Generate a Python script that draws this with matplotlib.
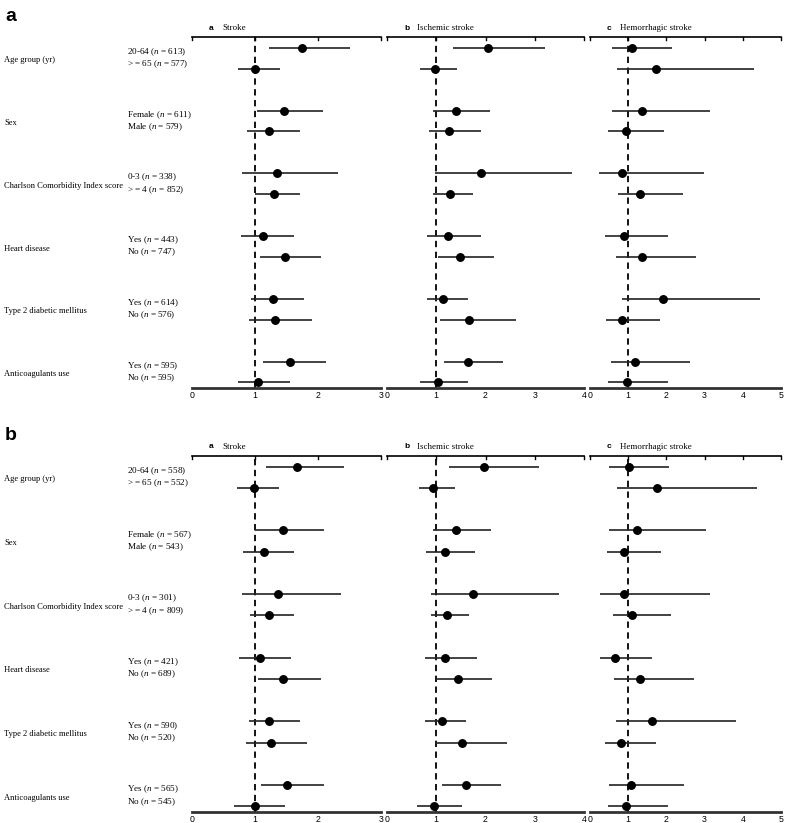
"""Forest plots: subgroup hazard ratios for stroke, ischemic and hemorrhagic stroke (two cohorts)."""
import numpy as np
import matplotlib.pyplot as plt

plt.rcParams["font.family"] = ["Liberation Serif", "DejaVu Serif"]
plt.rcParams["mathtext.fontset"] = "custom"
plt.rcParams["mathtext.rm"] = "Liberation Serif"
plt.rcParams["mathtext.it"] = "Liberation Serif:italic"

groups = ["Age group (yr)", "Sex", "Charlson Comorbidity Index score",
          "Heart disease", "Type 2 diabetic mellitus", "Anticoagulants use"]
sub_names = [("20-64", "> = 65"), ("Female", "Male"), ("0-3", "> = 4"),
             ("Yes", "No"), ("Yes", "No"), ("Yes", "No")]
n_top = [(613, 577), (611, 579), (338, 852), (443, 747), (614, 576), (595, 595)]
n_bot = [(558, 552), (567, 543), (301, 809), (421, 689), (590, 520), (565, 545)]

outcomes = ["Stroke", "Ischemic stroke", "Hemorrhagic stroke"]
letters = ["a", "b", "c"]
xmax = [3, 4, 5]

# hazard ratio, lower CI, upper CI -- 12 rows per outcome (cohort a)
top_hr = [
    [1.75, 1.00, 1.46, 1.22, 1.35, 1.30, 1.13, 1.47, 1.28, 1.31, 1.55, 1.05],
    [2.06, 0.98, 1.40, 1.26, 1.90, 1.28, 1.24, 1.49, 1.14, 1.66, 1.65, 1.04],
    [1.10, 1.73, 1.35, 0.95, 0.84, 1.30, 0.88, 1.35, 1.92, 0.84, 1.19, 0.97],
]
top_lo = [
    [1.23, 0.73, 1.03, 0.87, 0.79, 1.00, 0.78, 1.08, 0.93, 0.91, 1.12, 0.73],
    [1.35, 0.68, 0.94, 0.85, 0.97, 0.94, 0.82, 1.03, 0.82, 1.07, 1.15, 0.68],
    [0.57, 0.70, 0.58, 0.46, 0.24, 0.72, 0.39, 0.68, 0.84, 0.41, 0.56, 0.48],
]
top_hi = [
    [2.50, 1.40, 2.08, 1.71, 2.32, 1.71, 1.62, 2.05, 1.77, 1.90, 2.13, 1.55],
    [3.21, 1.43, 2.09, 1.91, 3.75, 1.75, 1.91, 2.18, 1.65, 2.62, 2.36, 1.65],
    [2.15, 4.29, 3.15, 1.95, 2.99, 2.44, 2.04, 2.77, 4.46, 1.82, 2.61, 2.05],
]
# cohort b
bot_hr = [
    [1.67, 0.98, 1.45, 1.14, 1.36, 1.22, 1.08, 1.45, 1.23, 1.25, 1.51, 1.00],
    [1.96, 0.94, 1.40, 1.18, 1.75, 1.21, 1.18, 1.44, 1.11, 1.53, 1.60, 0.95],
    [1.02, 1.76, 1.23, 0.90, 0.89, 1.11, 0.66, 1.31, 1.62, 0.81, 1.07, 0.95],
]
bot_lo = [
    [1.17, 0.71, 1.00, 0.81, 0.80, 0.92, 0.74, 1.05, 0.90, 0.85, 1.09, 0.67],
    [1.26, 0.64, 0.93, 0.80, 0.89, 0.90, 0.78, 0.99, 0.78, 0.98, 1.11, 0.61],
    [0.50, 0.71, 0.50, 0.44, 0.25, 0.60, 0.27, 0.64, 0.69, 0.39, 0.49, 0.47],
]
bot_hi = [
    [2.42, 1.38, 2.09, 1.62, 2.37, 1.62, 1.57, 2.04, 1.71, 1.83, 2.09, 1.47],
    [3.08, 1.38, 2.12, 1.78, 3.50, 1.67, 1.82, 2.14, 1.60, 2.44, 2.31, 1.53],
    [2.06, 4.38, 3.04, 1.85, 3.14, 2.11, 1.61, 2.73, 3.82, 1.73, 2.47, 2.04],
]

W, H = 785, 823
ax_x = [(192, 381), (387, 584), (590, 781)]
FS = 6.1
FS_SUB = 6.6


def row_pos():
    return np.array([3 * g + s for g in range(6) for s in range(2)], dtype=float)


def draw_block(fig, y_top, y_bot, hr, lo, hi, ns, letter):
    ypos = row_pos()
    fig.text(5 / W, 1 - (y_top - 21) / H, letter, family="Liberation Sans",
             fontweight="bold", fontsize=14, ha="left", va="center")

    # left-hand labels via a blank axes spanning the same rows
    lab = fig.add_axes([0, 1 - y_bot / H, 190 / W, (y_bot - y_top) / H])
    lab.set_xlim(0, 190)
    lab.set_ylim(16.25, -0.5)
    lab.axis("off")
    for g in range(6):
        yc = 3 * g + 0.5
        lab.text(4, yc + 0.1, groups[g], fontsize=FS, ha="left", va="center")
        for s in range(2):
            yy = yc + (-0.29 if s == 0 else 0.29)
            lab.text(127, yy, f"{sub_names[g][s]} ($\\mathit{{n}}$ = {ns[g][s]})",
                     fontsize=FS_SUB, ha="left", va="center")

    for k in range(3):
        x0, x1 = ax_x[k]
        ax = fig.add_axes([x0 / W, 1 - y_bot / H, (x1 - x0) / W, (y_bot - y_top) / H])
        ax.set_xlim(0, xmax[k])
        ax.set_ylim(16.25, -0.5)
        ax.axvline(1, color="black", lw=1.3, ls=(0, (3.5, 2.5)), zorder=1)
        ax.hlines(ypos, lo[k], hi[k], color="#222222", lw=1.2, zorder=2)
        ax.plot(hr[k], ypos, "o", color="black", ms=5.4, zorder=3)

        for side in ["left", "right"]:
            ax.spines[side].set_visible(False)
        ax.spines["top"].set_linewidth(1.2)
        ax.spines["bottom"].set_linewidth(2.0)
        ax.spines["bottom"].set_color("#333333")
        ax.set_yticks([])
        ax.set_xticks(range(xmax[k] + 1))
        ax.tick_params(axis="x", length=0, labelsize=6.3, pad=2.5)
        # inward ticks on the top line only
        for t in range(xmax[k] + 1):
            ax.plot([t, t], [-0.5, -0.35], color="black", lw=1.0, clip_on=False)
        ax.set_xticklabels([str(t) for t in range(xmax[k] + 1)],
                           family="Liberation Sans")
        fig.text((x0 + 17) / W, 1 - (y_top - 9) / H, letters[k], family="Liberation Sans",
                 fontweight="bold", fontsize=6, ha="left", va="center")
        fig.text((x0 + 30) / W, 1 - (y_top - 9) / H, outcomes[k], fontsize=FS + 0.3,
                 ha="left", va="center")


fig = plt.figure(figsize=(W / 100, H / 100), dpi=100)
draw_block(fig, 37.3, 387.7, top_hr, top_lo, top_hi, n_top, "a")
draw_block(fig, 456.0, 811.7, bot_hr, bot_lo, bot_hi, n_bot, "b")
fig.savefig("out.png", dpi=100)
